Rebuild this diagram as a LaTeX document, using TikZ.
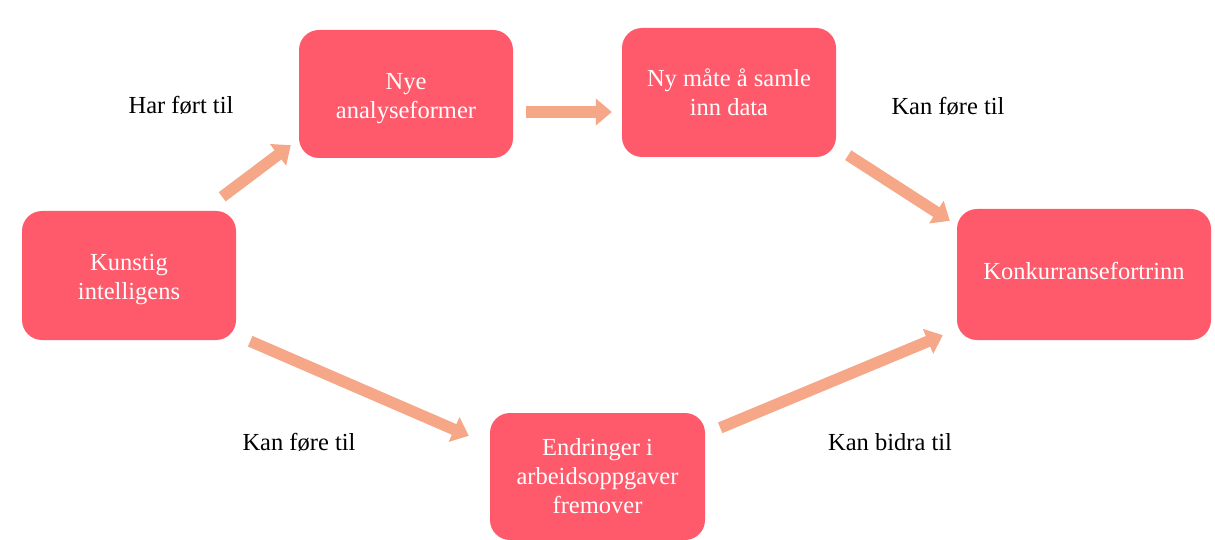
\documentclass[tikz,border=0pt]{standalone}
\usepackage{fontspec}
\setmainfont{Liberation Serif}
\usetikzlibrary{arrows.meta,calc}
\definecolor{boxred}{RGB}{255,90,107}
\definecolor{arrowsalmon}{RGB}{245,167,135}
\newcommand{\boxtxt}[2]{\raisebox{#1}[\height][\depth]{\begin{tabular}{@{}c@{}}#2\end{tabular}}}
\begin{document}
\begin{tikzpicture}[x=1pt,y=-1pt,
  box/.style={fill=boxred, rounded corners=20pt, text=white, align=center,
    font=\fontsize{24.5}{29}\selectfont, inner sep=0pt, minimum height=128pt},
  flow/.style={draw=arrowsalmon, line width=11.5pt,
    -{Triangle[width=26pt,length=16pt]}},
  lbl/.style={font=\fontsize{24.5}{29}\selectfont, text=black, inner sep=0pt}]
\useasboundingbox[fill=white] (0,0) rectangle (1215,540);

\node[box, minimum width=214pt, minimum height=129pt] (ki) at (129,275.5) {\boxtxt{-4pt}{Kunstig\\intelligens}};
\node[box, minimum width=214pt] (na) at (406,94) {\boxtxt{-4pt}{Nye\\analyseformer}};
\node[box, minimum width=214pt, minimum height=129pt] (nm) at (729,92.5) {\boxtxt{-3pt}{Ny måte å samle\\inn data}};
\node[box, minimum width=254pt, minimum height=131pt] (ko) at (1084,274.5) {\boxtxt{1pt}{Konkurransefortrinn}};
\node[box, minimum width=215pt, minimum height=127pt] (en) at (597.5,476.5) {\boxtxt{-2pt}{Endringer i\\arbeidsoppgaver\\fremover}};

\draw[flow] ([shift={(-14,-14)}]ki.north east) -- ([shift={(-8,-13)}]na.south west);
\draw[flow] ([shift={(13,18)}]na.east) -- ([shift={(-10,19.5)}]nm.west);
\draw[flow] ([shift={(12,-2)}]nm.south east) -- ([shift={(-7,12)}]ko.north west);
\draw[flow] ([shift={(14,1)}]ki.south east) -- ([shift={(-21,23)}]en.north west);
\draw[flow] ([shift={(15,15)}]en.north east) -- ([shift={(-14,-5)}]ko.south west);

\node[lbl] (l1) at (181,105) {Har ført til};
\node[lbl] (l2) at (948,106) {Kan føre til};
\node[lbl] (l3) at (299,442) {Kan føre til};
\node[lbl] (l4) at (890,442) {Kan bidra til};
\end{tikzpicture}
\end{document}
